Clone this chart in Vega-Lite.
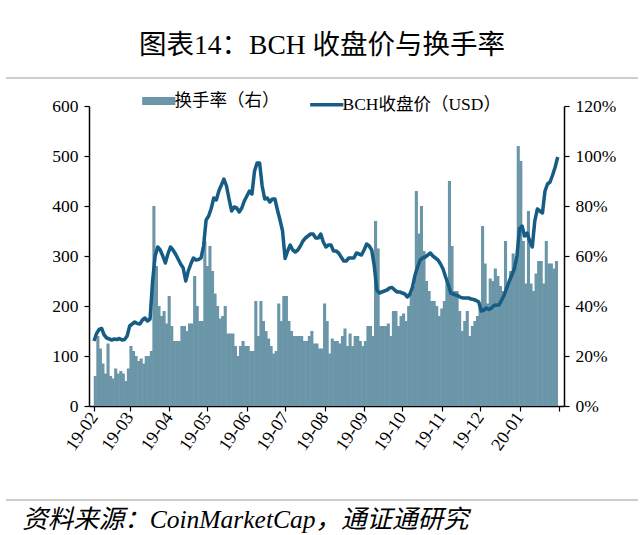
{
"$schema": "https://vega.github.io/schema/vega-lite/v6.json",
"background": "white",
"padding": {"left": 5, "top": 31, "right": 0, "bottom": 0},
"config": {"view": {"stroke": null}, "font": "Liberation Serif, Noto Sans CJK SC"},
"spacing": 13,
"resolve": {"scale": {"color": "independent"}, "legend": {"color": "independent"}},
"vconcat": [
{
 "width": 632, "height": 1,
 "title": {"text": "图表14：BCH 收盘价与换手率", "fontSize": 27.5, "font": "Liberation Serif, Noto Sans CJK SC", "fontWeight": "normal", "anchor": "middle", "offset": 18, "color": "black"},
 "data": {"values": [{"v": 0}]},
 "mark": {"type": "rule", "color": "#bdbdbd", "strokeWidth": 1.5},
 "encoding": {"y": {"field": "v", "type": "quantitative", "scale": {"domain": [0, 1]}, "axis": null}}
},
{
 "spacing": 0,
 "hconcat": [
 {
  "width": 38, "height": 300,
  "data": {"values": [{"v": 0}]},
  "mark": {"type": "point", "opacity": 0},
  "encoding": {}
 },
 {
 "width": 475, "height": 300,
 "data": {"values": [
{"d":"2019-02-01","p":130,"t":0.12},{"d":"2019-02-03","p":145,"t":0.28},{"d":"2019-02-05","p":153,"t":0.23},{"d":"2019-02-07","p":155,"t":0.17},{"d":"2019-02-09","p":142,"t":0.13},{"d":"2019-02-11","p":136,"t":0.25},{"d":"2019-02-13","p":134,"t":0.12},{"d":"2019-02-15","p":132,"t":0.11},{"d":"2019-02-17","p":134,"t":0.15},{"d":"2019-02-19","p":133,"t":0.13},{"d":"2019-02-21","p":135,"t":0.14},{"d":"2019-02-23","p":132,"t":0.13},{"d":"2019-02-25","p":133,"t":0.10},{"d":"2019-02-27","p":140,"t":0.15},
{"d":"2019-03-01","p":160,"t":0.24},{"d":"2019-03-03","p":164,"t":0.22},{"d":"2019-03-05","p":168,"t":0.20},{"d":"2019-03-07","p":165,"t":0.18},{"d":"2019-03-09","p":164,"t":0.19},{"d":"2019-03-11","p":172,"t":0.17},{"d":"2019-03-13","p":176,"t":0.20},{"d":"2019-03-15","p":170,"t":0.20},{"d":"2019-03-17","p":174,"t":0.22},{"d":"2019-03-19","p":250,"t":0.80},{"d":"2019-03-21","p":300,"t":0.56},{"d":"2019-03-23","p":318,"t":0.40},{"d":"2019-03-25","p":312,"t":0.36},{"d":"2019-03-27","p":300,"t":0.38},{"d":"2019-03-29","p":286,"t":0.33},{"d":"2019-03-31","p":304,"t":0.44},
{"d":"2019-04-02","p":318,"t":0.32},{"d":"2019-04-04","p":312,"t":0.26},{"d":"2019-04-06","p":304,"t":0.26},{"d":"2019-04-08","p":294,"t":0.26},{"d":"2019-04-10","p":284,"t":0.32},{"d":"2019-04-12","p":276,"t":0.32},{"d":"2019-04-14","p":250,"t":0.30},{"d":"2019-04-16","p":270,"t":0.33},{"d":"2019-04-18","p":284,"t":0.33},{"d":"2019-04-20","p":296,"t":0.52},{"d":"2019-04-22","p":292,"t":0.40},{"d":"2019-04-24","p":293,"t":0.34},{"d":"2019-04-26","p":296,"t":0.34},{"d":"2019-04-28","p":320,"t":0.66},{"d":"2019-04-30","p":372,"t":0.56},
{"d":"2019-05-02","p":380,"t":0.64},{"d":"2019-05-04","p":395,"t":0.54},{"d":"2019-05-06","p":416,"t":0.45},{"d":"2019-05-08","p":412,"t":0.40},{"d":"2019-05-10","p":430,"t":0.35},{"d":"2019-05-12","p":442,"t":0.36},{"d":"2019-05-14","p":454,"t":0.40},{"d":"2019-05-16","p":440,"t":0.29},{"d":"2019-05-18","p":414,"t":0.29},{"d":"2019-05-20","p":390,"t":0.29},{"d":"2019-05-22","p":398,"t":0.24},{"d":"2019-05-24","p":396,"t":0.20},{"d":"2019-05-26","p":388,"t":0.24},{"d":"2019-05-28","p":396,"t":0.26},{"d":"2019-05-30","p":410,"t":0.24},
{"d":"2019-06-01","p":420,"t":0.24},{"d":"2019-06-03","p":430,"t":0.22},{"d":"2019-06-05","p":424,"t":0.22},{"d":"2019-06-07","p":470,"t":0.42},{"d":"2019-06-09","p":486,"t":0.28},{"d":"2019-06-11","p":486,"t":0.42},{"d":"2019-06-13","p":440,"t":0.34},{"d":"2019-06-15","p":414,"t":0.30},{"d":"2019-06-17","p":416,"t":0.27},{"d":"2019-06-19","p":408,"t":0.24},{"d":"2019-06-21","p":414,"t":0.21},{"d":"2019-06-23","p":414,"t":0.22},{"d":"2019-06-25","p":392,"t":0.41},{"d":"2019-06-27","p":372,"t":0.34},{"d":"2019-06-29","p":350,"t":0.44},
{"d":"2019-07-01","p":295,"t":0.44},{"d":"2019-07-03","p":310,"t":0.34},{"d":"2019-07-05","p":322,"t":0.30},{"d":"2019-07-07","p":312,"t":0.28},{"d":"2019-07-09","p":308,"t":0.28},{"d":"2019-07-11","p":312,"t":0.28},{"d":"2019-07-13","p":320,"t":0.28},{"d":"2019-07-15","p":330,"t":0.26},{"d":"2019-07-17","p":336,"t":0.26},{"d":"2019-07-19","p":340,"t":0.28},{"d":"2019-07-21","p":344,"t":0.30},{"d":"2019-07-23","p":344,"t":0.25},{"d":"2019-07-25","p":336,"t":0.25},{"d":"2019-07-27","p":336,"t":0.23},{"d":"2019-07-29","p":344,"t":0.23},{"d":"2019-07-31","p":328,"t":0.41},
{"d":"2019-08-02","p":318,"t":0.34},{"d":"2019-08-04","p":322,"t":0.21},{"d":"2019-08-06","p":322,"t":0.27},{"d":"2019-08-08","p":310,"t":0.26},{"d":"2019-08-10","p":310,"t":0.26},{"d":"2019-08-12","p":306,"t":0.25},{"d":"2019-08-14","p":298,"t":0.28},{"d":"2019-08-16","p":290,"t":0.31},{"d":"2019-08-18","p":290,"t":0.24},{"d":"2019-08-20","p":296,"t":0.29},{"d":"2019-08-22","p":296,"t":0.24},{"d":"2019-08-24","p":296,"t":0.28},{"d":"2019-08-26","p":306,"t":0.28},{"d":"2019-08-28","p":304,"t":0.26},{"d":"2019-08-30","p":302,"t":0.24},
{"d":"2019-09-01","p":312,"t":0.26},{"d":"2019-09-03","p":324,"t":0.32},{"d":"2019-09-05","p":320,"t":0.32},{"d":"2019-09-07","p":312,"t":0.28},{"d":"2019-09-09","p":280,"t":0.74},{"d":"2019-09-11","p":232,"t":0.63},{"d":"2019-09-13","p":226,"t":0.32},{"d":"2019-09-15","p":228,"t":0.32},{"d":"2019-09-17","p":230,"t":0.32},{"d":"2019-09-19","p":232,"t":0.33},{"d":"2019-09-21","p":236,"t":0.28},{"d":"2019-09-23","p":237,"t":0.38},{"d":"2019-09-25","p":232,"t":0.38},{"d":"2019-09-27","p":228,"t":0.32},{"d":"2019-09-29","p":228,"t":0.36},
{"d":"2019-10-01","p":226,"t":0.37},{"d":"2019-10-03","p":224,"t":0.34},{"d":"2019-10-05","p":218,"t":0.40},{"d":"2019-10-07","p":224,"t":0.45},{"d":"2019-10-09","p":238,"t":0.48},{"d":"2019-10-11","p":262,"t":0.86},{"d":"2019-10-13","p":278,"t":0.69},{"d":"2019-10-15","p":292,"t":0.80},{"d":"2019-10-17","p":296,"t":0.62},{"d":"2019-10-19","p":298,"t":0.50},{"d":"2019-10-21","p":302,"t":0.46},{"d":"2019-10-23","p":306,"t":0.42},{"d":"2019-10-25","p":300,"t":0.42},{"d":"2019-10-27","p":296,"t":0.40},{"d":"2019-10-29","p":292,"t":0.36},{"d":"2019-10-31","p":284,"t":0.39},
{"d":"2019-11-02","p":274,"t":0.42},{"d":"2019-11-04","p":258,"t":0.50},{"d":"2019-11-06","p":244,"t":0.90},{"d":"2019-11-08","p":226,"t":0.64},{"d":"2019-11-10","p":224,"t":0.46},{"d":"2019-11-12","p":222,"t":0.46},{"d":"2019-11-14","p":220,"t":0.38},{"d":"2019-11-16","p":217,"t":0.30},{"d":"2019-11-18","p":216,"t":0.34},{"d":"2019-11-20","p":216,"t":0.38},{"d":"2019-11-22","p":216,"t":0.28},{"d":"2019-11-24","p":214,"t":0.32},{"d":"2019-11-26","p":213,"t":0.34},{"d":"2019-11-28","p":211,"t":0.36},{"d":"2019-11-30","p":208,"t":0.41},
{"d":"2019-12-02","p":190,"t":0.72},{"d":"2019-12-04","p":192,"t":0.57},{"d":"2019-12-06","p":196,"t":0.41},{"d":"2019-12-08","p":193,"t":0.51},{"d":"2019-12-10","p":196,"t":0.50},{"d":"2019-12-12","p":201,"t":0.55},{"d":"2019-12-14","p":202,"t":0.52},{"d":"2019-12-16","p":202,"t":0.48},{"d":"2019-12-18","p":212,"t":0.46},{"d":"2019-12-20","p":222,"t":0.66},{"d":"2019-12-22","p":236,"t":0.49},{"d":"2019-12-24","p":250,"t":0.54},{"d":"2019-12-26","p":262,"t":0.61},{"d":"2019-12-28","p":275,"t":0.56},{"d":"2019-12-30","p":300,"t":1.04},
{"d":"2020-01-01","p":355,"t":0.98},{"d":"2020-01-03","p":360,"t":0.66},{"d":"2020-01-05","p":340,"t":0.49},{"d":"2020-01-07","p":346,"t":0.78},{"d":"2020-01-09","p":330,"t":0.49},{"d":"2020-01-11","p":318,"t":0.46},{"d":"2020-01-13","p":370,"t":0.53},{"d":"2020-01-15","p":394,"t":0.58},{"d":"2020-01-17","p":390,"t":0.58},{"d":"2020-01-19","p":386,"t":0.49},{"d":"2020-01-21","p":430,"t":0.66},{"d":"2020-01-23","p":444,"t":0.57},{"d":"2020-01-25","p":448,"t":0.57},{"d":"2020-01-27","p":462,"t":0.55},{"d":"2020-01-29","p":478,"t":0.58},{"d":"2020-01-31","p":498,"t":null}
 ]},
 "layer": [
  {
   "mark": {"type": "bar", "width": 3.1, "xOffset": 1.3},
   "encoding": {
    "x": {"field": "d", "type": "temporal",
      "scale": {"type": "utc", "nice": false, "domain": [{"year": 2019, "month": 2, "date": 1, "utc": true}, {"year": 2020, "month": 2, "date": 1, "utc": true}]},
      "axis": {"title": null, "grid": false, "tickCount": {"interval": "month", "step": 1},
        "labelExpr": "(utcyear(datum.value) == 2020 && utcmonth(datum.value) == 1) ? '' : utcFormat(datum.value, '%y-%m')",
        "labelAngle": -55, "labelAlign": "right", "labelBaseline": "middle", "labelPadding": 3,
        "labelFontSize": 18, "labelColor": "black", "labelFont": "Liberation Serif",
        "labelOverlap": false, "labelBound": false, "labelFlush": false,
        "domainColor": "black", "domainWidth": 1.5, "tickColor": "black", "tickWidth": 1.2, "tickSize": 5}},
    "y": {"field": "t", "type": "quantitative", "scale": {"domain": [0, 1.2], "nice": false},
      "axis": {"orient": "right", "title": null, "grid": false, "values": [0, 0.2, 0.4, 0.6, 0.8, 1.0, 1.2], "format": ".0%",
        "labelFontSize": 17.5, "labelColor": "black", "labelFont": "Liberation Serif", "labelPadding": 6,
        "domainColor": "black", "domainWidth": 1.5, "tickColor": "black", "tickWidth": 1.2, "tickSize": 5}},
    "color": {"datum": "换手率（右）",
      "scale": {"domain": ["换手率（右）", "BCH收盘价（USD）"], "range": ["#6a96a8", "#175c84"]},
      "legend": {"orient": "none", "legendX": 144, "legendY": -14, "direction": "horizontal", "title": null,
        "labelFontSize": 17.5, "labelFont": "Liberation Serif, Noto Sans CJK SC", "labelColor": "black",
        "symbolSize": 1100, "symbolType": "stroke", "columnPadding": 23, "labelOffset": 7,
        "encode": {"symbols": {"update": {
          "shape": {"value": "stroke"},
          "strokeWidth": {"signal": "datum.value === '换手率（右）' ? 8 : 3.5"},
          "stroke": {"signal": "datum.value === '换手率（右）' ? '#6a96a8' : '#175c84'"},
          "fill": {"value": "transparent"}, "opacity": {"value": 1}}}}}}
   }
  },
  {
   "mark": {"type": "line", "strokeWidth": 3.5, "strokeJoin": "round"},
   "encoding": {
    "x": {"field": "d", "type": "temporal"},
    "y": {"field": "p", "type": "quantitative", "scale": {"domain": [0, 600], "nice": false},
      "axis": {"orient": "left", "grid": false, "values": [0, 100, 200, 300, 400, 500, 600],
        "title": " ", "titleX": -45, "titleY": 0, "titleAngle": 0, "titleAlign": "left", "titleFontSize": 2,
        "labelFontSize": 17.5, "labelColor": "black", "labelFont": "Liberation Serif", "labelPadding": 6,
        "domainColor": "black", "domainWidth": 1.5, "tickColor": "black", "tickWidth": 1.2, "tickSize": 5}},
    "color": {"datum": "BCH收盘价（USD）"}
   }
  }
 ],
 "resolve": {"scale": {"y": "independent"}}
 }
 ]
},
{
 "width": 632, "height": 33,
 "title": {"text": "资料来源：CoinMarketCap，通证通研究", "orient": "bottom", "anchor": "start", "fontSize": 25.5, "fontStyle": "italic", "fontWeight": "normal", "font": "Liberation Serif, Noto Sans CJK SC", "color": "black", "offset": 7, "dx": 17},
 "data": {"values": [{"v": 0}]},
 "mark": {"type": "rule", "color": "#bdbdbd", "strokeWidth": 1.5},
 "encoding": {"y": {"field": "v", "type": "quantitative", "scale": {"domain": [0, 1]}, "axis": null}}
}
]
}
